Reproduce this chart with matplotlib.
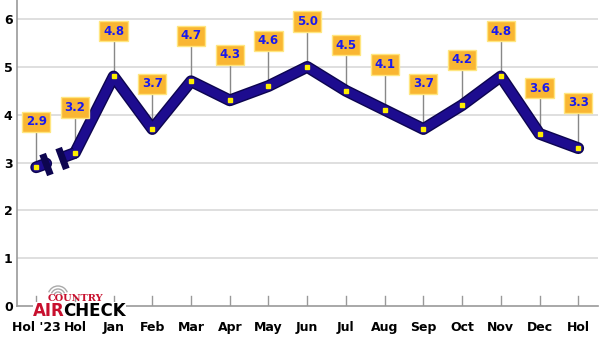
import numpy as np
import matplotlib.pyplot as plt
import matplotlib.patheffects as pe
from matplotlib.patches import Arc

# chart data
months = ["Hol '23", "Hol", "Jan", "Feb", "Mar", "Apr", "May", "Jun",
          "Jul", "Aug", "Sep", "Oct", "Nov", "Dec", "Hol"]
values = [2.9, 3.2, 4.8, 3.7, 4.7, 4.3, 4.6, 5.0, 4.5, 4.1, 3.7, 4.2, 4.8, 3.6, 3.3]
yticks = [0, 1, 2, 3, 4, 5, 6]

x = np.arange(len(months))
navy = '#1d0c8f'
dark = '#0d0550'

fig = plt.figure(figsize=(6, 3.38), dpi=100)
ax = fig.add_axes([0.028, 0.095, 0.968, 0.905])
ax.set_xlim(-0.5, len(months) - 0.5)
ax.set_ylim(0, 6.4)

# grid and axes
for yv in yticks[1:]:
    ax.axhline(yv, color='#d9d9d9', lw=1.2, zorder=0)
for s in ['top', 'right']:
    ax.spines[s].set_visible(False)
ax.spines['left'].set_color('#999999')
ax.spines['bottom'].set_color('#999999')
ax.spines['left'].set_linewidth(1.2)
ax.spines['bottom'].set_linewidth(1.2)

ax.set_yticks(yticks)
ax.set_yticklabels([str(v) for v in yticks], fontsize=9, fontweight='bold')
ax.tick_params(axis='y', length=0, pad=3)
ax.set_xticks([])
for i, m in enumerate(months):
    ax.plot([i, i], [0, 0.2], color='#999999', lw=1, zorder=1)
    ax.text(i, -0.46, m, ha='center', va='center', fontsize=9, fontweight='bold')

# main thick line, broken between first two points
effects = [pe.Stroke(linewidth=8.5, foreground=dark), pe.Normal()]
ax.plot(x[1:], values[1:], color=navy, lw=6.5, solid_capstyle='round',
        solid_joinstyle='round', path_effects=effects, zorder=3)

# first short segment with break
x0, y0 = x[0], values[0]
x1, y1 = x[1], values[1]
ta, tb = 0.26, 0.66
xa, ya = x0 + (x1 - x0) * ta, y0 + (y1 - y0) * ta
xb, yb = x0 + (x1 - x0) * tb, y0 + (y1 - y0) * tb
ax.plot([x0, xa], [y0, ya], color=navy, lw=6.5, solid_capstyle='round',
        path_effects=effects, zorder=3)
ax.plot([xb, x1], [yb, y1], color=navy, lw=6.5, solid_capstyle='butt',
        path_effects=effects, zorder=3)
# break caps perpendicular in display space
fig.canvas.draw()
pa = ax.transData.transform((x0, y0))
pb = ax.transData.transform((x1, y1))
ang = np.degrees(np.arctan2(pb[1] - pa[1], pb[0] - pa[0]))
for xc, yc in [(xa, ya), (xb, yb)]:
    ax.plot([xc], [yc], marker=(2, 0, ang), markersize=16, mew=5,
            color=dark, zorder=4)

# markers
ax.plot(x, values, ls='none', marker='s', ms=3.2, color='#ffee00',
        mec='#ffee00', zorder=5)

# value labels with connector lines
off = 0.95
for i, v in enumerate(values):
    ax.plot([i, i], [v, v + off], color='#888888', lw=1, zorder=2)
    ax.text(i, v + off, f"{v:.1f}", ha='center', va='center', fontsize=8.5,
            fontweight='bold', color='#1a1aee', zorder=6,
            bbox=dict(boxstyle='square,pad=0.3', facecolor='#f9b632',
                      edgecolor='#ffe680', lw=1))

# logo
W, H = 600, 338
air = fig.text(33 / W, 1 - 310.5 / H, 'AIR', color='#c8102e', fontsize=12,
               fontweight='bold', ha='left', va='center', zorder=10,
               bbox=dict(facecolor='white', edgecolor='none', pad=0))
fig.canvas.draw()
bb = air.get_window_extent()
fig.text(bb.x1 / W - 0.002, 1 - 310.5 / H, 'CHECK', color='black', fontsize=12,
         fontweight='bold', ha='left', va='center', zorder=10,
         bbox=dict(facecolor='white', edgecolor='none', pad=0))
fig.text(75 / W, 1 - 298.5 / H, 'COUNTRY', color='#c8102e', fontsize=7,
         fontweight='bold', family='DejaVu Serif', ha='center', va='center',
         zorder=12)
for r in [4, 7, 10]:
    fig.add_artist(Arc((58 / W, 1 - 296 / H), 2 * r / W, 2 * r / H,
                       theta1=35, theta2=145, color='#aaaaaa', lw=1,
                       transform=fig.transFigure))

fig.savefig('out.png', dpi=100)
